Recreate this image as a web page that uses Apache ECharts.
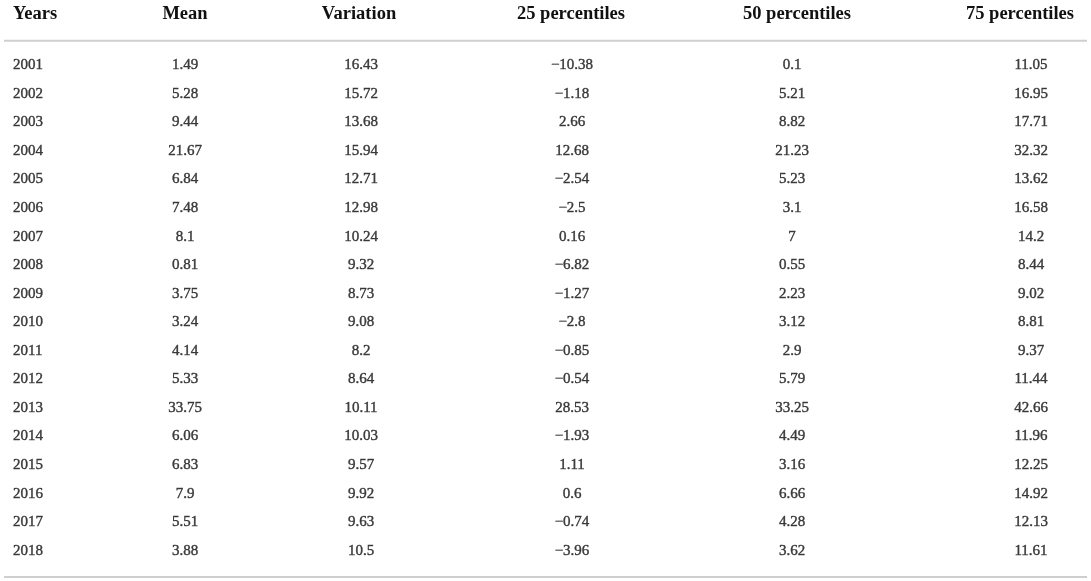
<!DOCTYPE html>
<html>
<head>
<meta charset="utf-8">
<script src="https://cdn.jsdelivr.net/npm/echarts@6/dist/echarts.min.js"></script>
<style>
  html, body { margin: 0; padding: 0; background: #fff; }
  #main { width: 1091px; height: 581px; }
</style>
</head>
<body>
<div id="main"></div>
<script>
// table data
const headers = ['Years', 'Mean', 'Variation', '25 percentiles', '50 percentiles', '75 percentiles']
const years = [2001, 2002, 2003, 2004, 2005, 2006, 2007, 2008, 2009, 2010, 2011, 2012, 2013, 2014, 2015, 2016, 2017, 2018]
const meanVals = [1.49, 5.28, 9.44, 21.67, 6.84, 7.48, 8.1, 0.81, 3.75, 3.24, 4.14, 5.33, 33.75, 6.06, 6.83, 7.9, 5.51, 3.88]
const variationVals = [16.43, 15.72, 13.68, 15.94, 12.71, 12.98, 10.24, 9.32, 8.73, 9.08, 8.2, 8.64, 10.11, 10.03, 9.57, 9.92, 9.63, 10.5]
const p25Vals = [-10.38, -1.18, 2.66, 12.68, -2.54, -2.5, 0.16, -6.82, -1.27, -2.8, -0.85, -0.54, 28.53, -1.93, 1.11, 0.6, -0.74, -3.96]
const p50Vals = [0.1, 5.21, 8.82, 21.23, 5.23, 3.1, 7, 0.55, 2.23, 3.12, 2.9, 5.79, 33.25, 4.49, 3.16, 6.66, 4.28, 3.62]
const p75Vals = [11.05, 16.95, 17.71, 32.32, 13.62, 16.58, 14.2, 8.44, 9.02, 8.81, 9.37, 11.44, 42.66, 11.96, 12.25, 14.92, 12.13, 11.61]

const columns = [years, meanVals, variationVals, p25Vals, p50Vals, p75Vals]

// layout of the columns (pixel centres), header nudges
const colCenters = [13, 185, 361, 572, 792, 1031]
const headerShift = [0, 0, -2, -1, 5, -11]
const rowTop = 51, rowHeight = 514

const textColor = '#111'
const serif = '"Liberation Serif", "DejaVu Serif", serif'

// minus sign as in print
const fmt = v => v < 0 ? '\u2212' + Math.abs(v) : String(v)

const chart = echarts.init(document.getElementById('main'))

const grid = [], xAxis = [], yAxis = [], series = []
columns.forEach((vals, i) => {
  const isYear = i === 0
  grid.push({ left: colCenters[i] - 1, width: 2, top: rowTop, height: rowHeight })
  const sh = headerShift[i]
  xAxis.push({
    type: 'category',
    gridIndex: i,
    position: 'top',
    data: [headers[i]],
    axisLine: { show: false },
    axisTick: { show: false },
    splitLine: { show: false },
    axisLabel: {
      interval: 0,
      margin: 37,
      color: textColor,
      fontFamily: serif,
      fontWeight: 'bold',
      fontSize: 18.5,
      align: isYear ? 'left' : 'center',
      verticalAlign: 'middle',
      padding: sh > 0 ? [0, 0, 0, 2 * sh] : [0, -2 * sh, 0, 0]
    }
  })
  yAxis.push({
    type: 'category',
    gridIndex: i,
    inverse: true,
    data: years.map(String),
    show: false
  })
  series.push({
    type: 'scatter',
    xAxisIndex: i,
    yAxisIndex: i,
    symbolSize: 0,
    silent: true,
    data: vals.map((v, j) => [0, j, v]),
    label: {
      show: true,
      position: isYear ? 'right' : 'inside',
      distance: 0,
      formatter: p => fmt(p.value[2]),
      color: textColor,
      textBorderColor: textColor,
      textBorderWidth: 0.4,
      fontFamily: serif,
      fontSize: 15
    }
  })
})

const option = {
  animation: false,
  backgroundColor: '#fff',
  grid, xAxis, yAxis, series,
  graphic: [
    { type: 'line', shape: { x1: 4, y1: 40.7, x2: 1087, y2: 40.7 }, style: { stroke: '#cfcfcf', lineWidth: 2 } },
    { type: 'line', shape: { x1: 4, y1: 577, x2: 1087, y2: 577 }, style: { stroke: '#cfcfcf', lineWidth: 2 } }
  ]
}
chart.setOption(option)
</script>
</body>
</html>
